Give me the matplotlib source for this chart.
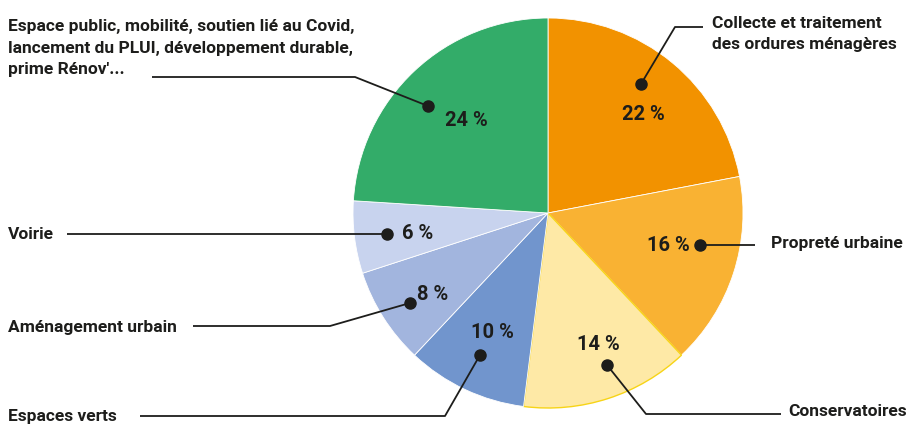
import matplotlib
matplotlib.use("Agg")
import matplotlib.pyplot as plt

# data
labels = ["Collecte et traitement\ndes ordures ménagères", "Propreté urbaine", "Conservatoires",
          "Espaces verts", "Aménagement urbain", "Voirie",
          "Espace public, mobilité, soutien lié au Covid,\nlancement du PLUI, développement durable,\nprime Rénov'..."]
shares = [22, 16, 14, 10, 8, 6, 24]
pct_labels = ["22 %", "16 %", "14 %", "10 %", "8 %", "6 %", "24 %"]
colors = ["#f29200", "#f9b233", "#fee9a6", "#7195cd", "#a2b5de", "#c8d3ee", "#33ac69"]

family = ["Roboto", "DejaVu Sans"]
ink = "#1d1d1b"

W, H = 920, 427
fig = plt.figure(figsize=(W / 100, H / 100), dpi=100)
ax = fig.add_axes([0, 0, 1, 1])

cx, cy, r = 548, H - 214, 195
wedges, _ = ax.pie(shares, colors=colors, startangle=90, counterclock=False,
                   center=(cx, cy), radius=r, frame=True,
                   wedgeprops=dict(edgecolor="white", linewidth=0.6))
wedges[2].set_edgecolor("#f7d417")
wedges[2].set_linewidth(1.0)
ax.set_xlim(0, W)
ax.set_ylim(0, H)
ax.set_aspect("equal")
ax.axis("off")

def py(y):
    return H - y

# leader lines in pixel coords, dot first
leaders = [
    [(641, 85), (675, 28), (703, 28)],
    [(700, 246), (755, 246)],
    [(607, 366), (646, 415), (781, 415)],
    [(480, 356), (445, 417), (140, 417)],
    [(410, 304), (330, 327), (193, 327)],
    [(387, 235), (67, 235)],
    [(428, 107), (355, 78), (152, 78)],
]
pct_pos = [(643, 115), (668, 246), (598, 345), (492, 333), (433, 294), (418, 234), (466, 120)]
label_pos = [(712, 34), (771, 244), (788, 412), (8, 417), (8, 328), (8, 235), (8, 48)]

for pts, (tx, ty), (lx, ly), pl, lab in zip(leaders, pct_pos, label_pos, pct_labels, labels):
    xs = [p[0] for p in pts]
    ys = [py(p[1]) for p in pts]
    ax.plot(xs, ys, color=ink, lw=1.3, solid_capstyle="butt", zorder=3)
    ax.plot(xs[0], ys[0], "o", color=ink, ms=8, zorder=4)
    ax.text(tx, py(ty), pl, ha="center", va="center", fontsize=14.5, fontweight="bold",
            family=family, color=ink, zorder=5)
    ax.text(lx, py(ly), lab, ha="left", va="center", fontsize=12.5, fontweight="bold",
            family=family, color=ink, linespacing=1.55, zorder=5)

fig.savefig("out.png", dpi=100)
